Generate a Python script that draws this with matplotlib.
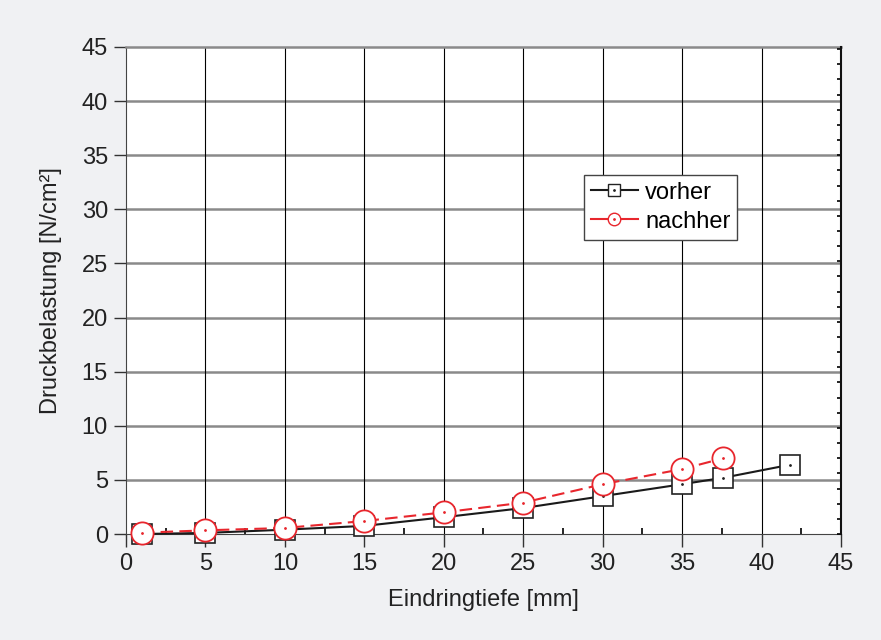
import numpy as np
import matplotlib
matplotlib.use("Agg")
import matplotlib.pyplot as plt
import matplotlib.ticker as ticker
from matplotlib.legend_handler import HandlerTuple

plt.rcParams['font.family'] = ['Liberation Sans', 'DejaVu Sans']

# data
x_vorher = [1.0, 5.0, 10.0, 15.0, 20.0, 25.0, 30.0, 35.0, 37.6, 41.8]
y_vorher = [0.0, 0.1, 0.4, 0.75, 1.55, 2.4, 3.5, 4.6, 5.2, 6.4]
x_nachher = [1.0, 5.0, 10.0, 15.0, 20.0, 25.0, 30.0, 35.0, 37.6]
y_nachher = [0.12, 0.34, 0.56, 1.2, 2.0, 2.9, 4.6, 6.0, 7.0]

xticks = [0, 5, 10, 15, 20, 25, 30, 35, 40, 45]
yticks = [0, 5, 10, 15, 20, 25, 30, 35, 40, 45]

fig = plt.figure(figsize=(8.81, 6.4), dpi=100)
fig.patch.set_facecolor('#f0f1f3')
ax = fig.add_axes([0.143, 0.1656, 0.8116, 0.761])
ax.set_facecolor('white')

# grid: horizontal grey and thicker, vertical thin black
for t in yticks[1:-1]:
    ax.axhline(t, color='#8a8a8a', lw=1.8, zorder=1)
for t in xticks[1:-1]:
    ax.axvline(t, color='black', lw=0.8, zorder=1)

l1, = ax.plot(x_vorher, y_vorher, '-', color='#1a1a1a', lw=1.5, marker='s',
              ms=14, mfc='white', mec='#222222', mew=1.2, zorder=3,
              clip_on=False)
d1, = ax.plot(x_vorher, y_vorher, ls='none', marker='.', ms=2,
              color='#222222', zorder=4, clip_on=False)
l2, = ax.plot(x_nachher, y_nachher, '--', color='#e8262d', lw=1.5,
              dashes=(6, 3), marker='o', ms=16, mfc='white', mec='#e8262d',
              mew=1.3, zorder=5, clip_on=False)
d2, = ax.plot(x_nachher, y_nachher, ls='none', marker='.', ms=2,
              color='#e8262d', zorder=6, clip_on=False)

ax.set_xlim(0, 45)
ax.set_ylim(0, 45)
ax.xaxis.set_major_locator(ticker.FixedLocator(xticks))
ax.yaxis.set_major_locator(ticker.FixedLocator(yticks))
ax.xaxis.set_minor_locator(ticker.MultipleLocator(2.5))
ax.tick_params(axis='both', which='major', direction='out', length=9,
               width=1, labelsize=17, colors='#333333', labelcolor='#222222')
ax.tick_params(axis='x', which='minor', direction='in', length=4, width=1.2)
ax.tick_params(axis='x', which='major', pad=5)
ax.tick_params(axis='y', which='major', pad=4)

# right side small inward ticks
ax2 = ax.twinx()
ax2.set_ylim(0, 45)
ax2.yaxis.set_major_locator(ticker.MultipleLocator(1.4))
ax2.tick_params(axis='y', direction='in', length=3, width=1.2,
                labelright=False)
ax2.spines['right'].set_color('#111111')
ax2.spines['right'].set_linewidth(1.5)
for s in ['left', 'top', 'bottom']:
    ax2.spines[s].set_visible(False)

ax.spines['left'].set_color('#444444')
ax.spines['bottom'].set_color('#444444')
ax.spines['top'].set_color('#8a8a8a')
ax.spines['top'].set_linewidth(1.8)
ax.spines['right'].set_visible(False)

ax.set_xlabel('Eindringtiefe [mm]', fontsize=17, color='#222222', labelpad=10)
ax.set_ylabel('Druckbelastung [N/cm²]', fontsize=17, color='#222222',
              labelpad=14)

# legend with small markers
h1 = ax.plot([], [], '-', color='#1a1a1a', lw=1.5, marker='s', ms=8,
             mfc='white', mec='#222222')[0]
h1d = ax.plot([], [], ls='none', marker='.', ms=2, color='#222222')[0]
h2 = ax.plot([], [], '-', color='#e8262d', lw=1.5, marker='o', ms=9,
             mfc='white', mec='#e8262d')[0]
h2d = ax.plot([], [], ls='none', marker='.', ms=2, color='#e8262d')[0]
leg = ax2.legend([(h1, h1d), (h2, h2d)], ['vorher', 'nachher'],
                 handler_map={tuple: HandlerTuple(ndivide=1, pad=0)},
                 loc='upper left', bbox_to_anchor=(0.64, 0.738),
                 fontsize=17, frameon=True, fancybox=False, framealpha=1,
                 edgecolor='#444444', handlelength=2.0, handletextpad=0.3,
                 borderpad=0.3, labelspacing=0.3, borderaxespad=0)
leg.get_frame().set_linewidth(1.0)

fig.savefig('out.png', dpi=100, facecolor=fig.get_facecolor())
